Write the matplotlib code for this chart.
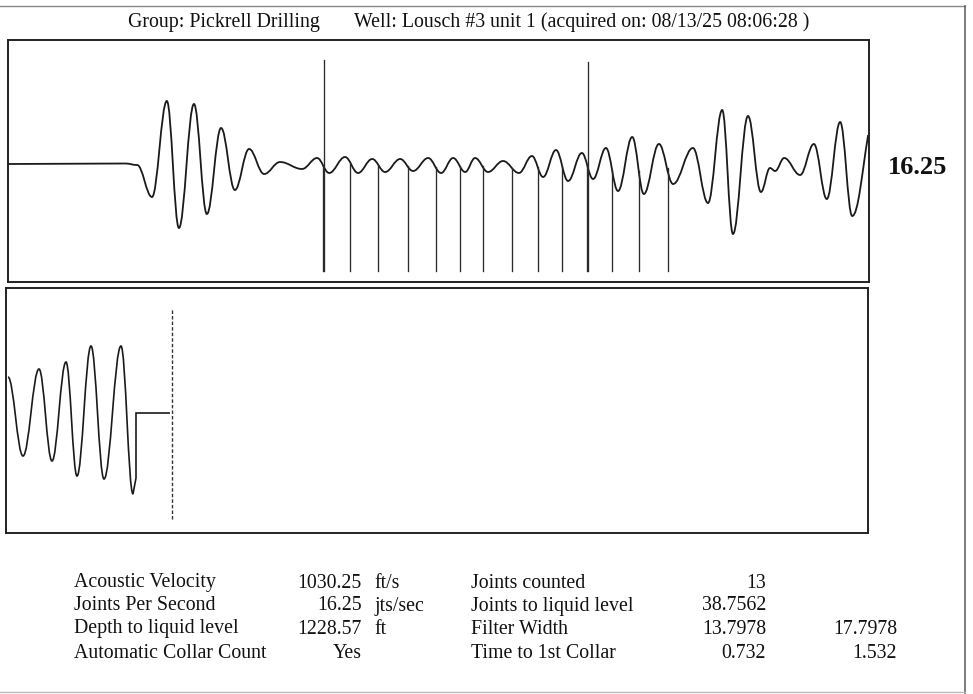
import numpy as np
import matplotlib
matplotlib.use("Agg")
import matplotlib.pyplot as plt
from matplotlib.path import Path
from matplotlib.patches import PathPatch
from matplotlib.lines import Line2D

plt.rcParams['font.family'] = ['Liberation Serif', 'DejaVu Serif']

W, H = 973, 694

# ---------------- data ----------------
# upper trace: extrema of the acoustic signal (time in s, amplitude in arbitrary units)
top_t = [0.000, 0.272, 0.300, 0.3345, 0.369, 0.397, 0.432, 0.462, 0.495, 0.527, 0.560,
         0.595, 0.632, 0.683, 0.718, 0.746, 0.783, 0.813, 0.846, 0.876, 0.911, 0.941,
         0.976, 1.006, 1.034, 1.062, 1.085, 1.115, 1.150, 1.187, 1.217, 1.243, 1.273,
         1.301, 1.333, 1.359, 1.389, 1.417, 1.450, 1.477, 1.512, 1.545, 1.591, 1.626,
         1.659, 1.684, 1.719, 1.749, 1.770, 1.782, 1.803, 1.840, 1.872, 1.902, 1.933,
         1.961, 1.998]
top_a = [0.0, 0.05, -0.1, -3.3, 6.3, -6.4, 6.0, -5.0, 3.6, -2.6, 1.5,
         -1.0, 0.2, -0.5, 0.6, -0.9, 0.7, -0.9, 0.5, -0.8, 0.5, -0.7,
         0.6, -0.9, 0.6, -0.8, 0.6, -0.8, 0.3, -0.9, 0.8, -1.3, 1.4,
         -1.7, 1.1, -1.5, 1.6, -2.7, 2.7, -3.0, 2.0, -2.0, 1.6, -3.9,
         5.4, -7.0, 4.8, -2.8, -0.4, -0.7, 0.6, -1.1, 2.0, -3.5, 4.2,
         -5.2, 2.9]

# detected collars (s)
collar_t = [0.732, 0.794, 0.859, 0.929, 0.994, 1.050, 1.103, 1.171, 1.231,
            1.287, 1.345, 1.403, 1.466, 1.532]
# tall marker lines (s)
marker_t = [0.734, 1.347]

# lower trace: extrema of the liquid-level echo (sample index, amplitude)
low_x = [2, 17, 33, 46, 60, 71, 85, 98, 115, 127]
low_a = [3.6, -4.3, 4.4, -4.8, 5.1, -6.3, 6.7, -6.6, 6.7, -8.1]
low_step_x = [130, 130, 164]
low_step_a = [-6.5, 0.0, 0.0]
liquid_level_x = 166

jps_label = "16.25"

labels_left = ["Acoustic Velocity", "Joints Per Second", "Depth to liquid level",
               "Automatic Collar Count"]
values_left = ["1030.25", "16.25", "1228.57", "Yes"]
units_left = ["ft/s", "jts/sec", "ft", ""]
labels_right = ["Joints counted", "Joints to liquid level", "Filter Width",
                "Time to 1st Collar"]
values_right1 = ["13", "38.7562", "13.7978", "0.732"]
values_right2 = ["", "", "17.7978", "1.532"]

title_group = "Group: Pickrell Drilling"
title_well = "Well: Lousch #3 unit 1 (acquired on: 08/13/25 08:06:28 )"


def smooth_path(xs, ys, k=0.38, last_rising=False):
    verts = [(xs[0], ys[0])]
    codes = [Path.MOVETO]
    n = len(xs)
    for i in range(1, n):
        x0, y0 = xs[i - 1], ys[i - 1]
        x1, y1 = xs[i], ys[i]
        dx = x1 - x0
        c2y = y1
        if last_rising and i == n - 1:
            c2y = y1 - 0.45 * (y1 - y0)
        verts += [(x0 + k * dx, y0), (x1 - k * dx, c2y), (x1, y1)]
        codes += [Path.CURVE4] * 3
    return Path(verts, codes)


def px_axes(left, top, right, bottom):
    return fig.add_axes([left / W, 1 - bottom / H, (right - left) / W, (bottom - top) / H])


fig = plt.figure(figsize=(W / 100, H / 100), dpi=100)
fig.patch.set_facecolor('white')

# ---------------- upper panel ----------------
ax1 = px_axes(8, 40, 869, 282)
ax1.set_xlim(0, 2.0)
ax1.set_ylim(-11.8, 12.4)
p1 = smooth_path(top_t, top_a, last_rising=True)
ax1.add_patch(PathPatch(p1, facecolor='none', edgecolor='#1a1a1a', lw=1.3))
poly = p1.to_polygons(closed_only=False)[0]
order = np.argsort(poly[:, 0])
curve_y = np.interp(collar_t, poly[order, 0], poly[order, 1])
for t, yv in zip(collar_t, curve_y):
    ax1.plot([t, t], [yv, -10.7], color='#2a2a2a', lw=0.95)
for t, top in zip(marker_t, [10.4, 10.2]):
    ax1.plot([t, t], [-10.7, top], color='#2a2a2a', lw=0.95)

# ---------------- lower panel ----------------
ax2 = px_axes(6, 288, 868, 533)
ax2.set_xlim(0, 862)
ax2.set_ylim(-12.0, 12.5)
p2 = smooth_path(low_x, low_a)
v = list(p2.vertices) + list(zip(low_step_x, low_step_a))
c = list(p2.codes) + [Path.LINETO] * len(low_step_x)
ax2.add_patch(PathPatch(Path(v, c), facecolor='none', edgecolor='#1a1a1a', lw=1.2))
ax2.plot([liquid_level_x, liquid_level_x], [-10.6, 10.5], color='#333333', lw=1.0,
         linestyle=(0, (2.5, 1.5)))

for ax in (ax1, ax2):
    ax.set_xticks([])
    ax.set_yticks([])
    for s in ax.spines.values():
        s.set_linewidth(1.4)
        s.set_color('#222222')

# ---------------- page frame ----------------
fig.add_artist(Line2D([0 / W, 965 / W], [1 - 6 / H, 1 - 6 / H], color='#888888', lw=1.0))
fig.add_artist(Line2D([965 / W, 965 / W], [1 - 6 / H, 0], color='#666666', lw=1.2))
fig.add_artist(Line2D([0, 965 / W], [1 - 692 / H, 1 - 692 / H], color='#bbbbbb', lw=1.0))

# ---------------- texts ----------------
fig.text(128 / W, 1 - 22 / H, title_group, ha='left', va='center', fontsize=14.3, color='#111111')
fig.text(354 / W, 1 - 22 / H, title_well, ha='left', va='center', fontsize=14.3, color='#111111')
fig.text(888 / W, 1 - 168 / H, jps_label, ha='left', va='center', fontsize=19,
         fontweight='bold', color='#111111')

rows_y = [583, 606, 629, 653]
for i, yy in enumerate(rows_y):
    yf = 1 - yy / H
    fig.text(74 / W, yf, labels_left[i], ha='left', va='center', fontsize=14.3, color='#111111')
    fig.text(362 / W, yf, values_left[i], ha='right', va='center', fontsize=14.3, color='#111111')
    fig.text(374 / W, yf, units_left[i], ha='left', va='center', fontsize=14.3, color='#111111')
    fig.text(471 / W, yf, labels_right[i], ha='left', va='center', fontsize=14.3, color='#111111')
    fig.text(766 / W, yf, values_right1[i], ha='right', va='center', fontsize=14.3, color='#111111')
    fig.text(897 / W, yf, values_right2[i], ha='right', va='center', fontsize=14.3, color='#111111')

fig.savefig('out.png', dpi=100, facecolor='white')
